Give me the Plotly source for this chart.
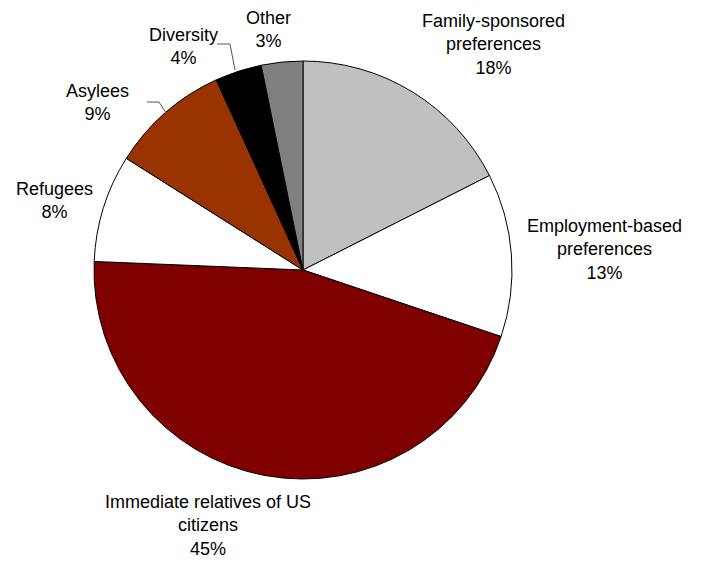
import plotly.graph_objects as go

W, H = 704, 561
OFF = 8  # page body margin in the browser

categories = ["Family-sponsored preferences", "Employment-based preferences",
              "Immediate relatives of US citizens", "Refugees", "Asylees",
              "Diversity", "Other"]
values = [17.5, 12.6, 45.4, 8.3, 9.2, 3.6, 3.2]
label_text = ["Family-sponsored<br>preferences", "Employment-based<br>preferences",
              "Immediate relatives of US<br>citizens", "Refugees", "Asylees",
              "Diversity", "Other"]
colors = ["#C0C0C0", "#FFFFFF", "#800000", "#FFFFFF", "#993300", "#000000", "#808080"]

# label anchor positions (window pixels)
label_pos = [(493, 45), (604, 249), (208, 525), (54, 200), (97, 103), (183, 46), (268, 29)]

def px(x):
    return (x - OFF) / W

def py(y):
    return 1 - (y - OFF) / H

cx, cy, r = 303, 270, 209

fig = go.Figure(go.Pie(
    labels=categories,
    values=values,
    sort=False,
    direction="clockwise",
    rotation=0,
    marker=dict(colors=colors, line=dict(color="#000000", width=1)),
    textinfo="none",
    hoverinfo="label+percent",
    domain=dict(x=[px(cx - r), px(cx + r)], y=[py(cy + r), py(cy - r)]),
    showlegend=False,
))

total = sum(values)
annotations = []
for lab, v, (x, y) in zip(label_text, values, label_pos):
    annotations.append(dict(
        x=px(x), y=py(y), xref="paper", yref="paper",
        text=f"{lab}<br>{round(v / total * 100)}%",
        showarrow=False, xanchor="center", yanchor="middle", align="center",
        borderpad=0,
        font=dict(family="Liberation Sans, Arial, sans-serif", size=18, color="#000000"),
    ))

leader_lines = [
    [(147, 102), (159, 102), (166, 113)],
    [(217, 44), (230, 44), (235, 70)],
]
shapes = []
for pts in leader_lines:
    path = "M " + " L ".join(f"{px(x)},{py(y)}" for x, y in pts)
    shapes.append(dict(type="path", path=path, xref="paper", yref="paper",
                       line=dict(color="#555555", width=1)))

fig.update_layout(
    width=W, height=H,
    margin=dict(l=0, r=0, t=0, b=0),
    paper_bgcolor="#FFFFFF", plot_bgcolor="#FFFFFF",
    annotations=annotations,
    shapes=shapes,
)

fig.write_html("out.html")
